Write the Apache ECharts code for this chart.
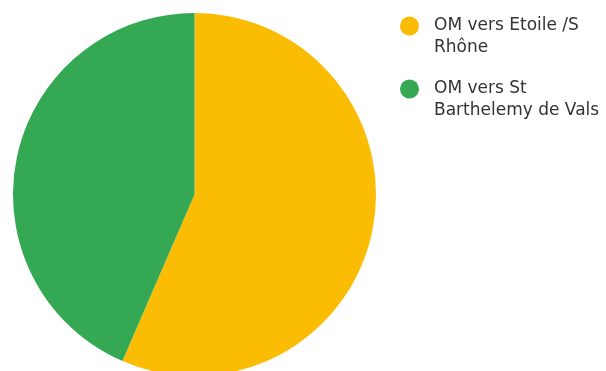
<!DOCTYPE html>
<html>
<head>
<meta charset="utf-8">
<style>
html,body{margin:0;padding:0;background:#fff;}
#chart{width:606px;height:371px;}
</style>
<script src="https://cdn.jsdelivr.net/npm/echarts@6/dist/echarts.min.js"></script>
</head>
<body>
<div id="chart"></div>
<script>
var categories = ["OM vers Etoile /S Rhône", "OM vers St Barthelemy de Vals"];
var values = [56.5, 43.5];
var colors = ["#FBBC04", "#34A853"];

var FONT = '17px "DejaVu Sans"';
var MAXW = 175;
var ctx = document.createElement('canvas').getContext('2d');
ctx.font = FONT;
function wrap(name) {
  var words = name.split(' '), lines = [], cur = '';
  words.forEach(function (w) {
    var t = cur ? cur + ' ' + w : w;
    if (cur && ctx.measureText(t).width > MAXW) { lines.push(cur); cur = w; }
    else cur = t;
  });
  if (cur) lines.push(cur);
  return lines;
}

var chart = echarts.init(document.getElementById('chart'));
chart.setOption({
  animation: false,
  color: colors,
  legend: {
    orient: 'vertical',
    left: 395,
    top: -12,
    icon: 'circle',
    itemWidth: 19,
    itemHeight: 19,
    itemGap: -3,
    selectedMode: false,
    formatter: function (name) {
      return '{e| }\n' + wrap(name).map(function (l) { return '{t|' + l + '}'; }).join('\n');
    },
    textStyle: {
      fontFamily: 'DejaVu Sans',
      fontSize: 17,
      color: '#333',
      lineHeight: 22,
      rich: {
        e: {fontSize: 17, lineHeight: 22, height: 22},
        t: {fontFamily: 'DejaVu Sans', fontSize: 17, lineHeight: 22, color: '#333', padding: [0, 0, 0, 10]}
      }
    },
    data: categories
  },
  series: [{
    type: 'pie',
    center: [194.5, 194.5],
    radius: 181.5,
    startAngle: 90,
    clockwise: true,
    label: {show: false},
    labelLine: {show: false},
    itemStyle: {borderWidth: 0},
    data: categories.map(function (c, i) { return {name: c, value: values[i]}; })
  }]
});
</script>
</body>
</html>
